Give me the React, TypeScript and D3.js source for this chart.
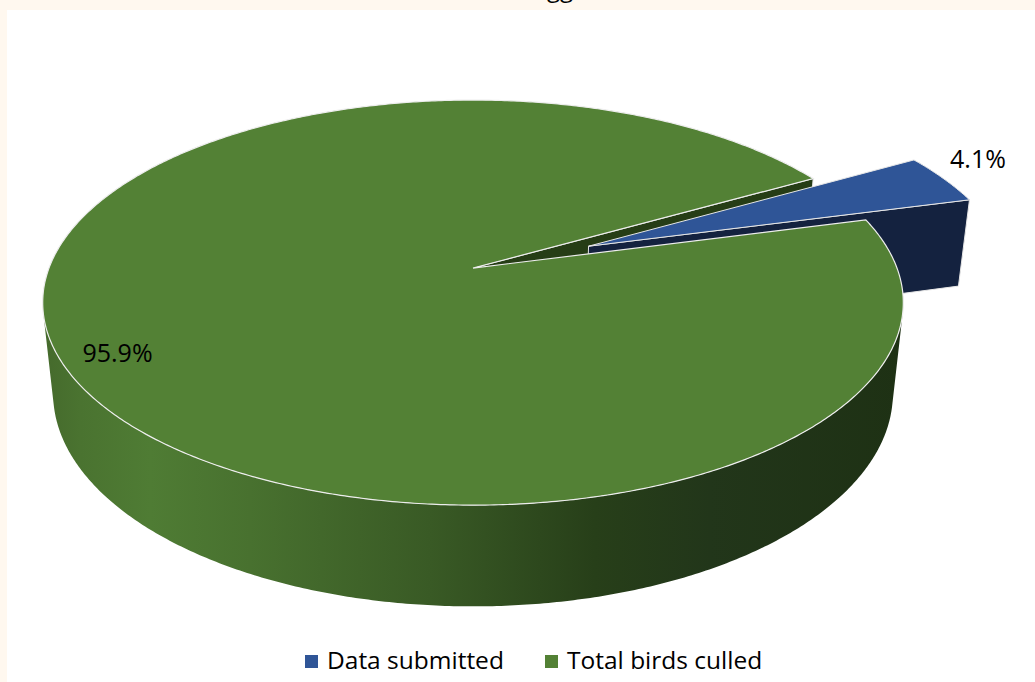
import React from "react";
import * as d3 from "d3";

const categories = ["Data submitted", "Total birds culled"];
const values = [4.1, 95.9];
const valueLabels = ["4.1%", "95.9%"];
const titleFragment = "gg";

const W = 1035;
const H = 682;
const topColors = ["#2F5597", "#538135"];
const cutColors = ["#14223F", "#263D16"];

// 3D projection parameters
const S = 414;
const ELEV = (30 * Math.PI) / 180;
const FOC = 5.2;
const THICK = 0.245;
const X0 = 473;
const Y0 = 358;
const EXPLODE = 0.3;
const START = (60.44 * Math.PI) / 180;

function proj(x: number, y: number, z: number): [number, number] {
  const yc = y * Math.cos(ELEV) - z * Math.sin(ELEV);
  const zc = y * Math.sin(ELEV) + z * Math.cos(ELEV);
  const k = FOC / (FOC - zc);
  return [X0 + S * x * k, Y0 - S * yc * k];
}

function rim(b: number, y: number, ox: number, oz: number): [number, number] {
  return proj(Math.sin(b) + ox, y, -Math.cos(b) + oz);
}

function arcPts(b0: number, b1: number, y: number, ox: number, oz: number) {
  const n = Math.max(2, Math.ceil(Math.abs(b1 - b0) / (Math.PI / 360)));
  const pts: [number, number][] = [];
  for (let i = 0; i <= n; i++) {
    const b = b0 + ((b1 - b0) * i) / n;
    pts.push(rim(b, y, ox, oz));
  }
  return pts;
}

const line = d3.line();

export default function App() {
  const pie = d3
    .pie<number>()
    .sort(null)
    .value((d) => d)
    .startAngle(START)
    .endAngle(START + 2 * Math.PI);
  const arcs = pie(values);
  const blue = arcs[0];
  const green = arcs[1];

  const bm = (blue.startAngle + blue.endAngle) / 2;
  const bx = EXPLODE * Math.sin(bm);
  const bz = -EXPLODE * Math.cos(bm);

  const gE = green.endAngle;
  const greenCut = [
    proj(0, THICK, 0),
    rim(gE, THICK, 0, 0),
    rim(gE, 0, 0, 0),
    proj(0, 0, 0),
  ] as [number, number][];

  const bE = blue.endAngle;
  const blueCut = [
    proj(bx, THICK, bz),
    rim(bE, THICK, bx, bz),
    rim(bE, 0, bx, bz),
    proj(bx, 0, bz),
  ] as [number, number][];

  const blueTop = [
    proj(bx, THICK, bz),
    ...arcPts(blue.startAngle, blue.endAngle, THICK, bx, bz),
  ] as [number, number][];

  const greenTop = [
    proj(0, THICK, 0),
    ...arcPts(green.startAngle, green.endAngle, THICK, 0, 0),
  ] as [number, number][];

  const c = 1 / (FOC * Math.cos(ELEV));
  const bA = Math.max(Math.acos(-c), green.startAngle);
  const bB = Math.min(2 * Math.PI - Math.acos(-c), green.endAngle);
  const wall = [
    ...arcPts(bA, bB, THICK, 0, 0),
    ...arcPts(bB, bA, 0, 0, 0),
  ] as [number, number][];

  const close = (p: [number, number][]) => (line(p) || "") + "Z";

  const legendX = [305, 545];

  return (
    <svg
      width={W}
      height={H}
      style={{ position: "absolute", left: 0, top: 0 }}
      fontFamily="'Open Sans', 'Noto Sans', sans-serif"
    >
      <defs>
        <linearGradient id="wallG" gradientUnits="userSpaceOnUse" x1={44} y1={0} x2={902} y2={0}>
          <stop offset="0" stopColor="#456A2C" />
          <stop offset="0.042" stopColor="#4A7330" />
          <stop offset="0.124" stopColor="#4F7C34" />
          <stop offset="0.24" stopColor="#48712F" />
          <stop offset="0.45" stopColor="#395A25" />
          <stop offset="0.642" stopColor="#273F19" />
          <stop offset="0.776" stopColor="#22361A" />
          <stop offset="1" stopColor="#1E3114" />
        </linearGradient>
      </defs>
      <rect x={0} y={0} width={W} height={H} fill="#FFF8EF" />
      <rect x={7} y={10} width={W - 7} height={H - 10} fill="#FFFFFF" />
      <text x={560} y={-3} textAnchor="middle" fontSize={24} fill="#000">
        {titleFragment}
      </text>

      <path d={close(greenCut)} fill={cutColors[1]} stroke="#E6E6E6" strokeWidth={1} />
      <path d={close(blueCut)} fill={cutColors[0]} stroke="#E6E6E6" strokeWidth={1} />
      <path d={close(blueTop)} fill={topColors[0]} stroke="#E6E6E6" strokeWidth={1} />
      <path d={close(wall)} fill="url(#wallG)" />
      <path d={close(greenTop)} fill={topColors[1]} stroke="#EDEDED" strokeWidth={1.2} />

      <text x={978} y={168} textAnchor="middle" fontSize={25} fill="#000">
        {valueLabels[0]}
      </text>
      <text x={117.5} y={362} textAnchor="middle" fontSize={25} fill="#000">
        {valueLabels[1]}
      </text>

      {categories.map((cat, i) => (
        <g key={cat}>
          <rect x={legendX[i]} y={655} width={13} height={13} fill={topColors[i]} />
          <text x={legendX[i] + 22} y={669} fontSize={24.5} fill="#000">
            {cat}
          </text>
        </g>
      ))}
    </svg>
  );
}
